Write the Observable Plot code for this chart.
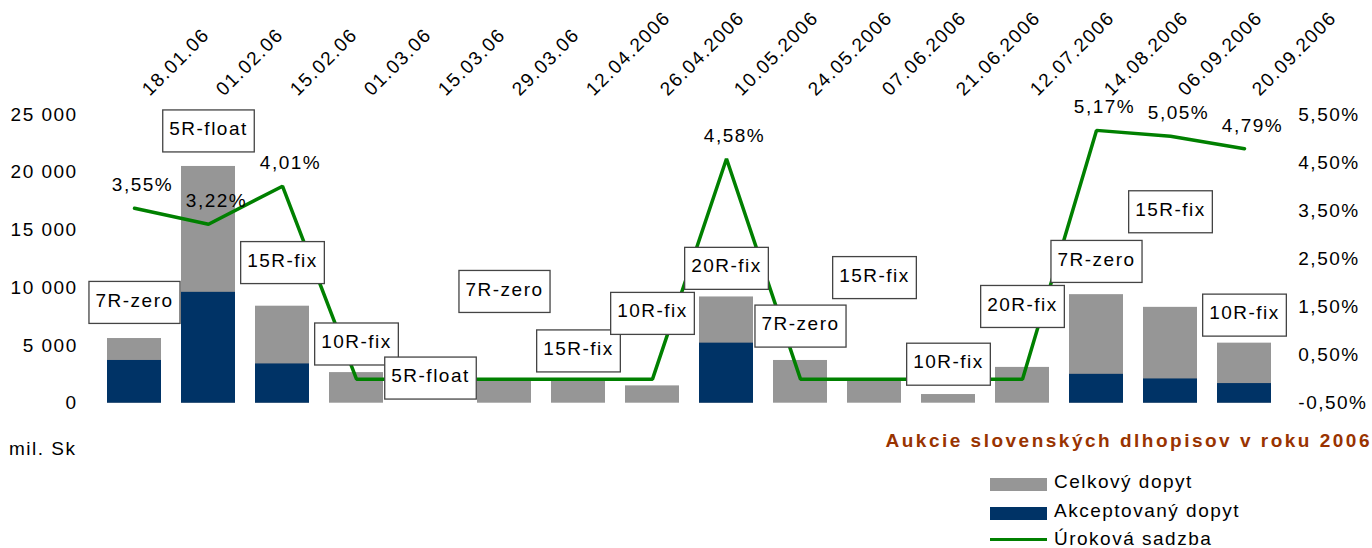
<!DOCTYPE html>
<html>
<head>
<meta charset="utf-8">
<script src="https://cdn.jsdelivr.net/npm/d3@7"></script>
<script src="https://cdn.jsdelivr.net/npm/@observablehq/plot@0.6"></script>
<style>
  html, body { margin: 0; padding: 0; background: #fff; }
  #wrap { position: relative; width: 1372px; height: 548px; overflow: hidden;
          font-family: "Liberation Sans", Arial, sans-serif; color: #000; }
  .txt { position: absolute; font-size: 19px; line-height: 19px; letter-spacing: 1.5px; white-space: nowrap; }
  .title { position: absolute; font-size: 19px; line-height: 19px; font-weight: bold; letter-spacing: 2.5px;
           color: #993300; white-space: nowrap; }
  .sw { position: absolute; }
</style>
</head>
<body>
<div id="wrap">
  <div id="chart"></div>
  <div class="txt" style="left:9px; top:439px;">mil. Sk</div>
  <div class="title" style="right:0px; top:431px;">Aukcie slovenských dlhopisov v roku 2006</div>
  <div class="sw" style="left:990px; top:478px; width:57px; height:13px; background:#969696;"></div>
  <div class="txt" style="left:1054px; top:472px;">Celkový dopyt</div>
  <div class="sw" style="left:990px; top:507px; width:57px; height:13px; background:#003366;"></div>
  <div class="txt" style="left:1054px; top:501px;">Akceptovaný dopyt</div>
  <div class="sw" style="left:990px; top:538px; width:57px; height:3px; background:#008000;"></div>
  <div class="txt" style="left:1054px; top:529px;">Úroková sadzba</div>
</div>
<script>
// ---- data ----
const dates = ["18.01.06","01.02.06","15.02.06","01.03.06","15.03.06","29.03.06","12.04.2006","26.04.2006",
               "10.05.2006","24.05.2006","07.06.2006","21.06.2006","12.07.2006","14.08.2006","06.09.2006","20.09.2006"];
const bonds = ["7R-zero","5R-float","15R-fix","10R-fix","5R-float","7R-zero","15R-fix","10R-fix",
               "20R-fix","7R-zero","15R-fix","10R-fix","20R-fix","7R-zero","15R-fix","10R-fix"];
// Celkový dopyt (mil. Sk)
const totalDemand = [5600, 20500, 8400, 2650, 0, 2000, 2000, 1500, 9200, 3700, 1900, 750, 3100, 9400, 8300, 5200];
// Akceptovaný dopyt (mil. Sk)
const acceptedDemand = [3700, 9600, 3400, 0, 0, 0, 0, 0, 5200, 0, 0, 0, 0, 2500, 2100, 1700];
// Úroková sadzba (%)
const rates = [3.55, 3.22, 4.01, 0, 0, 0, 0, 0, 4.58, 0, 0, 0, 0, 5.17, 5.05, 4.79];
// value (mil. Sk) at which each bond-name label sits
const labelAnchor = [8900, 23750, 12350, 5300, 2350, 9850, 4700, 7950, 11850, 6850, 11050, 3550, 8550, 12450, 16750, 7800];
// axis ticks
const leftTicks = [0, 5000, 10000, 15000, 20000, 25000];
const rightTicks = [-0.5, 0.5, 1.5, 2.5, 3.5, 4.5, 5.5];

// ---- table ----
const rows = dates.map((d, i) => ({
  date: d, bond: bonds[i], total: totalDemand[i], accepted: acceptedDemand[i],
  rate: rates[i], anchor: labelAnchor[i]
}));

// map the right (rate) axis onto the left (mil. Sk) axis
const rMin = -0.5, rMax = 5.5, lMax = 25000;
const toLeft = r => (r - rMin) / (rMax - rMin) * lMax;
const fromLeft = v => v / lMax * (rMax - rMin) + rMin;
const pct = r => r.toFixed(2).replace(".", ",") + "%";
const thousands = v => d3.format(",")(v).replace(/,/g, " ");

const plot = Plot.plot({
  width: 1372,
  height: 548,
  marginTop: 114,
  marginBottom: 145.3,
  marginLeft: 84.2,
  marginRight: 79.2,
  style: {fontFamily: "'Liberation Sans', Arial, sans-serif", fontSize: "19px", letterSpacing: "1.5px", color: "#000", background: "white", overflow: "visible"},
  x: {domain: dates, padding: 0.273, label: null},
  y: {domain: [0, lMax], label: null},
  marks: [
    Plot.barY(rows, {x: "date", y: "total", fill: "#969696"}),
    Plot.barY(rows, {x: "date", y: "accepted", fill: "#003366"}),
    Plot.lineY(rows, {x: "date", y: d => toLeft(d.rate), stroke: "#008000", strokeWidth: 3.5, strokeLinejoin: "miter"}),
    Plot.text(rows.filter(d => d.rate > 0), {x: "date", y: d => toLeft(d.rate), text: d => pct(d.rate), dx: 8, dy: -23, fill: "#000"}),
    Plot.text(rows, {x: "date", y: "anchor", text: "bond", fill: "#000"}),
    Plot.axisY({anchor: "left", ticks: leftTicks, tickFormat: thousands, tickSize: 0, tickPadding: 7, label: null}),
    Plot.axisY({anchor: "right", ticks: rightTicks.map(toLeft), tickFormat: v => pct(Math.round(fromLeft(v) * 100) / 100), tickSize: 0, tickPadding: 5, label: null}),
    Plot.axisX({anchor: "top", tickRotate: -45, tickSize: 0, tickPadding: 22, dx: 11, label: null})
  ]
});
document.getElementById("chart").append(plot);

// white boxes with a dark outline behind the bond-name labels
const bondSet = new Set(bonds);
Array.from(plot.querySelectorAll("text"))
  .filter(t => bondSet.has(t.textContent))
  .forEach(t => {
    const b = t.getBBox();
    const r = document.createElementNS("http://www.w3.org/2000/svg", "rect");
    r.setAttribute("x", b.x - 6.5);
    r.setAttribute("width", b.width + 13);
    r.setAttribute("y", -19);
    r.setAttribute("height", 42);
    r.setAttribute("fill", "white");
    r.setAttribute("stroke", "#444");
    r.setAttribute("stroke-width", 1.3);
    const tr = t.getAttribute("transform");
    if (tr) r.setAttribute("transform", tr);
    t.parentNode.insertBefore(r, t);
  });
</script>
</body>
</html>
